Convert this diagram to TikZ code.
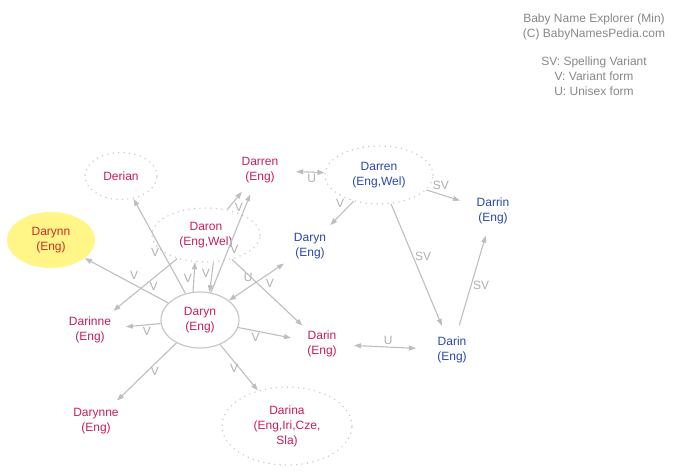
\documentclass[tikz,border=0pt]{standalone}
\usepackage{fontspec}
\setmainfont{Liberation Sans}
\usetikzlibrary{shapes.geometric,arrows.meta}
\definecolor{girlred}{RGB}{200,30,85}
\definecolor{darkred}{RGB}{205,45,40}
\definecolor{boyblue}{RGB}{40,70,170}
\definecolor{edgegray}{RGB}{190,190,190}
\definecolor{labelgray}{RGB}{175,175,175}
\definecolor{ringgray}{RGB}{200,200,200}
\definecolor{titlegray}{RGB}{135,135,135}
\definecolor{hilite}{RGB}{255,246,135}
\tikzset{
  babyname/.style={ellipse, align=center, inner sep=0pt, minimum width=72pt, minimum height=50pt, font=\fontsize{12}{15}\selectfont},
  girl/.style={babyname, text=girlred},
  boy/.style={babyname, text=boyblue},
  listed/.style={draw=ringgray, line width=1.6pt, dash pattern=on 0pt off 5.5pt, line cap=round},
  rel/.style={draw=edgegray, line width=1.1pt, ->},
  lbl/.style={text=labelgray, font=\fontsize{12}{14}\selectfont, inner sep=1.5pt},
  legend/.style={text=titlegray, align=center, font=\fontsize{12}{15}\selectfont},
}

\begin{document}
\begin{tikzpicture}[x=1pt, y=-1pt, >={Triangle[length=7pt,width=5pt]}]
    \useasboundingbox (0,0) rectangle (685,471);
    \node[legend] (title) at (594,27) {Baby Name Explorer (Min)\\(C) BabyNamesPedia.com}; % header
    \node[legend] (key) at (594,76) {SV: Spelling Variant\\V: Variant form\\U: Unisex form}; % legend
    % names
    \node[girl, draw=ringgray, line width=1.2pt, minimum width=78pt, minimum height=56pt] (daryn) at (200,320) {Daryn\\(Eng)};
    \node[girl, fill=hilite, text=darkred, minimum width=88pt, minimum height=56pt] (darynn) at (51,240) {Darynn\\(Eng)};
    \node[girl, listed, minimum height=47pt] (derian) at (121,176) {Derian};
    \node[girl, listed, minimum width=108pt, minimum height=54pt] (daron) at (206,235) {Daron\\(Eng,Wel)};
    \node[girl] (darren) at (260,170) {Darren\\(Eng)};
    \node[boy] (darynboy) at (310,246) {Daryn\\(Eng)};
    \node[boy, listed, minimum width=108pt, minimum height=58pt] (darrenboy) at (379,175) {Darren\\(Eng,Wel)};
    \node[boy] (darrin) at (493,211) {Darrin\\(Eng)};
    \node[girl] (darinne) at (90,330) {Darinne\\(Eng)};
    \node[girl, minimum width=64pt, minimum height=46pt] (darin) at (322,344) {Darin\\(Eng)};
    \node[boy] (darinboy) at (452,350) {Darin\\(Eng)};
    \node[girl] (darynne) at (96,421) {Darynne\\(Eng)};
    \node[girl, listed, minimum width=130pt, minimum height=78pt] (darina) at (287,426) {Darina\\(Eng,Iri,Cze,\\Sla)};
    % links
    \draw[rel] (daryn) -- node[lbl, pos=.41, above=3pt] {V} (darynn);
    \draw[rel] (daryn) -- node[lbl, pos=.43, left=2pt] {V} (derian);
    \draw[rel] (daryn.104) -- node[lbl, pos=.45, left] {V} (daron.248);
    \draw[rel] (daron.285) -- node[lbl, pos=.35, left] {V} (daryn.71);
    \draw[rel] (daryn) -- node[lbl, pos=.44, right] {V} (darren);
    \draw[rel] (daron) -- node[lbl, pos=.1, right=4pt] {V} (darren);
    \draw[rel] (daron) -- node[lbl, pos=.37, below=2pt] {V} (darinne);
    \draw[rel, <->] (daryn) -- node[lbl, pos=.35, above=4pt] {U} (darynboy);
    \draw[rel] (daron) -- node[lbl, pos=.45, above right=0pt] {V} (darin);
    \draw[rel] (daryn) -- node[lbl, pos=.33, below] {V} (darin);
    \draw[rel] (daryn) -- node[lbl, pos=.4, below] {V} (darinne);
    \draw[rel] (daryn) -- node[lbl, pos=.5, right=2pt] {V} (darynne);
    \draw[rel] (daryn) -- node[lbl, pos=.53, left] {V} (darina);
    \draw[rel, <->] (darin) -- node[lbl, pos=.55, above] {U} (darinboy);
    \draw[rel, <->] (darrenboy) -- node[lbl, pos=.45, below] {U} (darren);
    \draw[rel] (darrenboy) -- node[lbl, pos=.1, left=5pt] {V} (darynboy);
    \draw[rel] (darrenboy) -- node[lbl, pos=.43, above=3pt] {SV} (darrin);
    \draw[rel] (darrenboy) -- node[lbl, pos=.43, right] {SV} (darinboy);
    \draw[rel] (darinboy) -- node[lbl, pos=.45, right] {SV} (darrin);
\end{tikzpicture}
\end{document}
